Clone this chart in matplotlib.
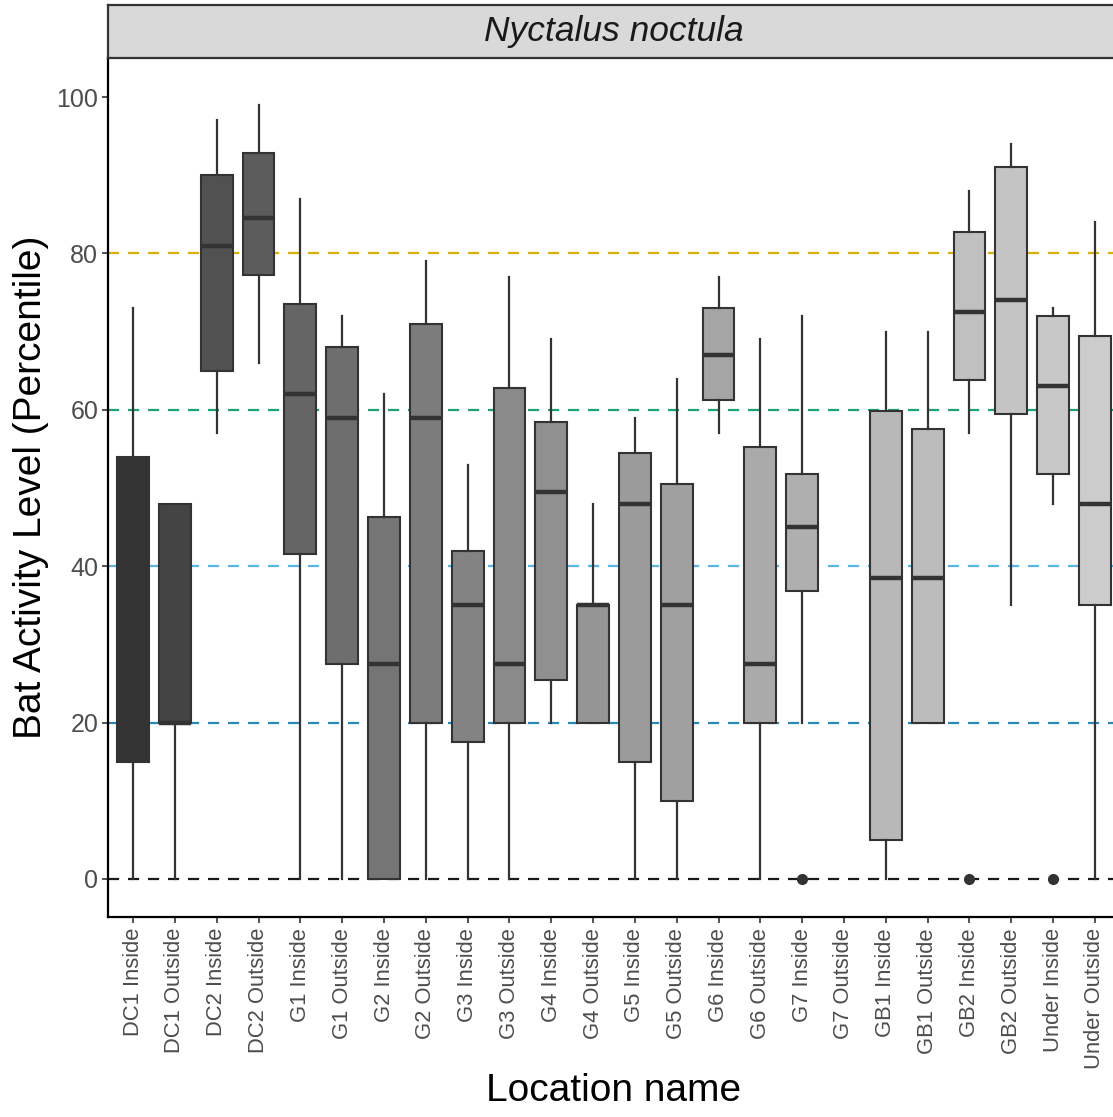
import numpy as np
import matplotlib
matplotlib.use("Agg")
import matplotlib.pyplot as plt

plt.rcParams["font.family"] = ["Liberation Sans", "DejaVu Sans"]

# ---------------------------------------------------------
# data
# ---------------------------------------------------------
locations = [
    "DC1 Inside", "DC1 Outside", "DC2 Inside", "DC2 Outside",
    "G1 Inside", "G1 Outside", "G2 Inside", "G2 Outside",
    "G3 Inside", "G3 Outside", "G4 Inside", "G4 Outside",
    "G5 Inside", "G5 Outside", "G6 Inside", "G6 Outside",
    "G7 Inside", "G7 Outside", "GB1 Inside", "GB1 Outside",
    "GB2 Inside", "GB2 Outside", "Under Inside", "Under Outside",
]
# None = no data for that location
whisker_low = [0, 0, 57, 66, 0, 0, 0, 0, 0, 0, 20, 20,
               0, 0, 57, 0, 20, None, 0, 20, 57, 35, 48, 0]
q1 = [15, 20, 65, 77.3, 41.5, 27.5, 0, 20, 17.5, 20, 25.5, 20,
      15, 10, 61.2, 20, 36.8, None, 5, 20, 63.8, 59.5, 51.8, 35]
median = [35, 20, 81, 84.5, 62, 59, 27.5, 59, 35, 27.5, 49.5, 35,
          48, 35, 67, 27.5, 45, None, 38.5, 38.5, 72.5, 74, 63, 48]
q3 = [54, 48, 90, 92.8, 73.5, 68, 46.3, 71, 42, 62.8, 58.5, 35,
      54.5, 50.5, 73, 55.3, 51.8, None, 59.8, 57.5, 82.8, 91, 72, 69.5]
whisker_high = [73, 48, 97, 99, 87, 72, 62, 79, 53, 77, 69, 48,
                59, 64, 77, 69, 72, None, 70, 70, 88, 94, 73, 84]
outliers = {"G7 Inside": [0], "GB2 Inside": [0], "Under Inside": [0]}

ref_levels = [0, 20, 40, 60, 80]
ref_colors = ["#1a1a1a", "#2b88b8", "#5ab4e5", "#1f9e78", "#d9ae12"]

# grey fill ramp like R grey.colors(n, 0.2, 0.8)
n = len(locations)
g = np.linspace(0.2 ** 2.2, 0.8 ** 2.2, n) ** (1 / 2.2)
fills = [(v, v, v) for v in g]

# ---------------------------------------------------------
# figure
# ---------------------------------------------------------
W, H = 1113, 1117
fig = plt.figure(figsize=(W / 100, H / 100), dpi=100)
ax = fig.add_axes([108 / W, (H - 917) / H, (1120 - 108) / W, (917 - 58) / H])

pos = np.arange(1, n + 1)

for lvl, col in zip(ref_levels, ref_colors):
    ax.axhline(lvl, color=col, linestyle=(0, (5, 4)), linewidth=1.6, zorder=1)

stats = []
stat_pos = []
stat_fill = []
for i, name in enumerate(locations):
    if median[i] is None:
        continue
    stats.append({
        "med": median[i], "q1": q1[i], "q3": q3[i],
        "whislo": whisker_low[i], "whishi": whisker_high[i],
        "fliers": outliers.get(name, []),
    })
    stat_pos.append(pos[i])
    stat_fill.append(fills[i])

edge = "#333333"
bp = ax.bxp(
    stats, positions=stat_pos, widths=0.76, patch_artist=True,
    showcaps=False, manage_ticks=False,
    boxprops=dict(edgecolor=edge, linewidth=1.5),
    whiskerprops=dict(color=edge, linewidth=1.6),
    medianprops=dict(color=edge, linewidth=3.2, solid_capstyle="butt"),
    flierprops=dict(marker="o", markerfacecolor=edge, markeredgecolor=edge,
                    markersize=7),
)
for patch, fc in zip(bp["boxes"], stat_fill):
    patch.set_facecolor(fc)
    patch.set_zorder(2)

ax.set_xlim(0.4, n + 0.6)
ax.set_ylim(-4.86, 104.99)

ax.set_xticks(pos)
ax.set_xticklabels(locations, rotation=90, fontsize=15.8, color="#4d4d4d")
ax.set_yticks([0, 20, 40, 60, 80, 100])
ax.tick_params(axis="y", labelsize=18, labelcolor="#4d4d4d", length=4,
               width=1.2, color="#333333", pad=3)
ax.tick_params(axis="x", length=4, width=1.2, color="#333333", pad=4)

for s in ["top", "right"]:
    ax.spines[s].set_visible(False)
for s in ["left", "bottom"]:
    ax.spines[s].set_linewidth(1.6)
    ax.spines[s].set_color("black")

ax.set_xlabel("Location name", fontsize=28, color="black", labelpad=3)
ax.set_ylabel("Bat Activity Level (Percentile)", fontsize=28, color="black",
              labelpad=5)

# facet strip
sax = fig.add_axes([108 / W, (H - 58) / H, (1120 - 108) / W, (58 - 5) / H])
sax.set_facecolor("#d9d9d9")
sax.set_xticks([])
sax.set_yticks([])
for s in sax.spines.values():
    s.set_linewidth(1.6)
    s.set_color("#333333")
sax.text(0.5, 0.5, "Nyctalus noctula", transform=sax.transAxes,
         ha="center", va="center", fontsize=25.5, style="italic",
         color="#1a1a1a")

fig.savefig("out.png", dpi=100)
